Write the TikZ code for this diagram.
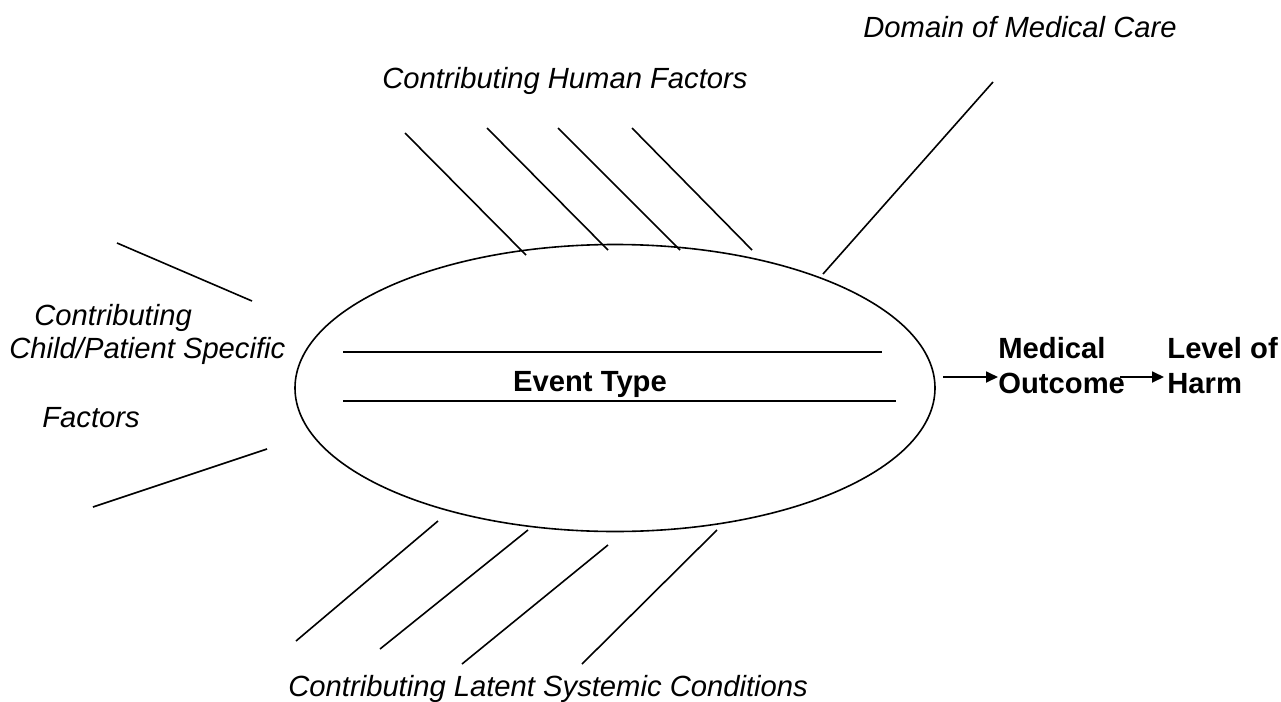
\documentclass[tikz,border=0pt]{standalone}
\usepackage{fontspec}
\setmainfont{Liberation Sans}
\usetikzlibrary{shapes.geometric,arrows.meta}
\tikzstyle{bone} = [draw=black, line width=0.8pt]
\tikzstyle{factor} = [font=\itshape\fontsize{14.6}{17}\selectfont, anchor=base west, inner sep=0pt]
\tikzstyle{result} = [font=\bfseries\fontsize{14.6}{17.5}\selectfont, align=left, anchor=west, inner sep=0pt]
\tikzstyle{flow} = [draw=black, line width=0.9pt, -{Triangle[length=6pt,width=5.5pt]}]

\begin{document}
\begin{tikzpicture}[x=0.5pt,y=-0.5pt]
\useasboundingbox (0,0) rectangle (1281,702);
\node[draw, ellipse, line width=0.8pt, minimum width=320pt, minimum height=143.5pt, inner sep=0pt] (event) at (615,388) {};
\node[font=\bfseries\fontsize{14.6}{17}\selectfont, inner sep=0pt] (eventtype) at (590,384) {Event Type};
\coordinate (rowa1) at (343,352);
\coordinate (rowa2) at (882,352);
\coordinate (rowb1) at (343,401);
\coordinate (rowb2) at (896,401);
\draw[bone] (rowa1) -- (rowa2);
\draw[bone] (rowb1) -- (rowb2);
% bones round the event
\foreach \n/\xa/\ya/\xb/\yb in {h1/405/133/526/255, h2/487/128/608/250, h3/558/128/680/250, h4/632/128/752/250,
    dom/993/82/823/274, c1/117/243/252/301, c2/93/507/267/449,
    l1/438/521/296/641, l2/528/530/380/649, l3/608/545/462/664, l4/717/530/582/664} {
  \coordinate (\n a) at (\xa,\ya);
  \coordinate (\n b) at (\xb,\yb);
  \draw[bone] (\n a) -- (\n b);
}
% labels
\node[factor] (domain) at (863,37) {Domain of Medical Care};
\node[factor] (human) at (382,88) {Contributing Human Factors};
\node[factor] (childa) at (34,325) {Contributing};
\node[factor] (childb) at (9,358) {Child/Patient Specific};
\node[factor] (childc) at (42,427) {Factors};
\node[factor] (latent) at (288,696) {Contributing Latent Systemic Conditions};
% outcome
\node[result] (outcome) at (998,366) {Medical\\Outcome};
\node[result] (harm) at (1167,366) {Level of\\Harm};
\coordinate (flowa) at (943,377);
\coordinate (flowb) at (1120,377);
\draw[flow] (flowa) -- (outcome.west |- flowa);
\draw[flow] (flowb) -- ([xshift=-1.5pt]harm.west |- flowb);
\end{tikzpicture}
\end{document}
